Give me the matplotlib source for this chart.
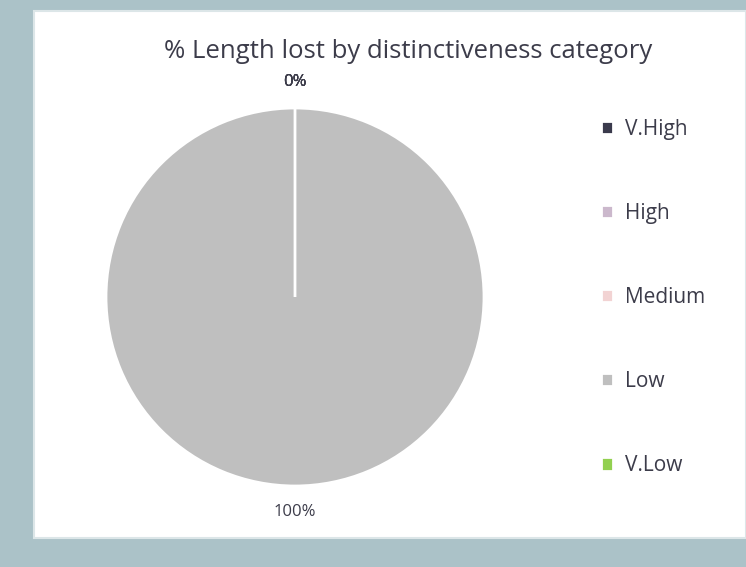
import matplotlib.pyplot as plt
from matplotlib.patches import Rectangle

categories = ["V.High", "High", "Medium", "Low", "V.Low"]
pct_lost = [0, 0, 0, 100, 0]
colors = ["#3A3A4C", "#CBB8CC", "#F2D3D3", "#BFBFBF", "#92D050"]

plt.rcParams["font.family"] = ["Open Sans", "DejaVu Sans"]
text_col = "#3C3C4A"

W, H = 746, 567
fig = plt.figure(figsize=(W / 100, H / 100), dpi=100, facecolor="#ABC2C8")

# white chart area
fig.patches.append(Rectangle((34 / W, (H - 538) / H), 1 - 34 / W, (538 - 11) / H,
                             transform=fig.transFigure, facecolor="white",
                             edgecolor="#DCE6E8", linewidth=1.5, zorder=-5))

cx, cy, r = 295, 297, 189
ax = fig.add_axes([(cx - r) / W, (H - cy - r) / H, 2 * r / W, 2 * r / H])
ax.set_zorder(2)
ax.patch.set_visible(False)
wedges, texts, autotexts = ax.pie(
    pct_lost, colors=colors, startangle=90, counterclock=False,
    autopct=lambda p: f"{p:.0f}%", pctdistance=1.14,
    wedgeprops=dict(edgecolor="white", linewidth=2),
    textprops=dict(color=text_col, fontsize=12),
)
ax.set_xlim(-1, 1)
ax.set_ylim(-1, 1)
ax.set_aspect("equal")

fig.text(408 / W, 1 - 51 / H, "% Length lost by distinctiveness category",
         ha="center", va="center", fontsize=18.5, color=text_col)

leg = fig.legend(wedges, categories, loc="upper left",
                 bbox_to_anchor=(582 / W, 1 - 100 / H), frameon=False,
                 fontsize=15, labelspacing=3.03, handlelength=0.6,
                 handleheight=0.6, handletextpad=0.55)
for t in leg.get_texts():
    t.set_color(text_col)

fig.savefig("out.png", dpi=100, facecolor=fig.get_facecolor())
